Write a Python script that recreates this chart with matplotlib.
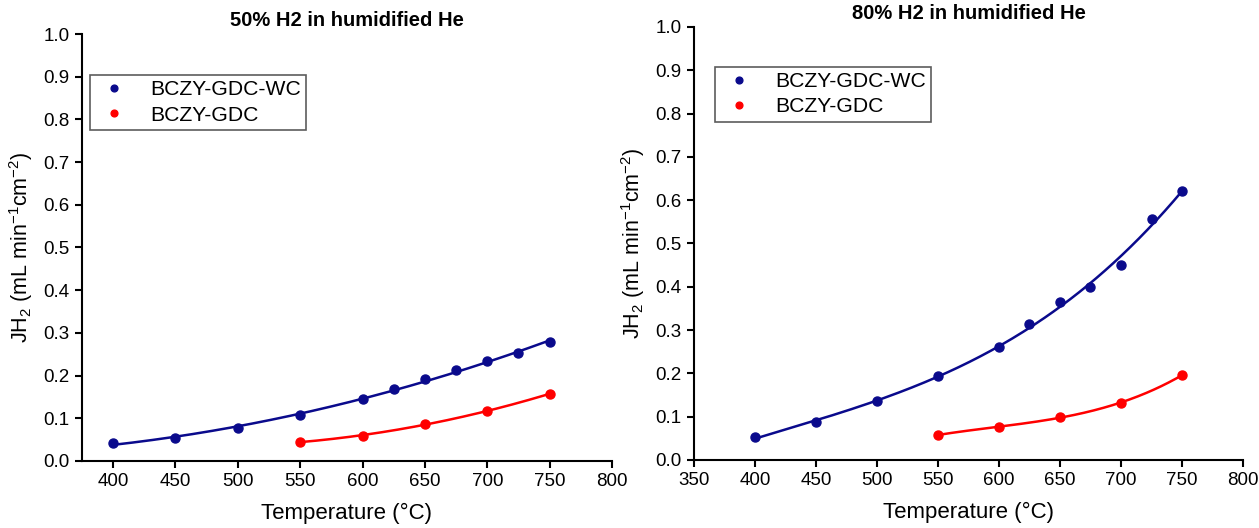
import numpy as np
import matplotlib
matplotlib.use("Agg")
import matplotlib.pyplot as plt

plt.rcParams['font.family'] = ['Liberation Sans', 'DejaVu Sans']
plt.rcParams['mathtext.fontset'] = 'custom'
plt.rcParams['mathtext.rm'] = 'Liberation Sans'
plt.rcParams['mathtext.it'] = 'Liberation Sans'
plt.rcParams['mathtext.default'] = 'regular'

# Data
temp_wc = [400, 450, 500, 550, 600, 625, 650, 675, 700, 725, 750]
temp_gdc = [550, 600, 650, 700, 750]

left_wc = [0.043, 0.053, 0.077, 0.107, 0.145, 0.168, 0.191, 0.213, 0.234, 0.252, 0.279]
left_gdc = [0.045, 0.058, 0.087, 0.117, 0.157]

right_wc = [0.052, 0.087, 0.136, 0.194, 0.261, 0.314, 0.364, 0.399, 0.451, 0.556, 0.621]
right_gdc = [0.058, 0.076, 0.099, 0.132, 0.196]

titles = ["50% H2 in humidified He", "80% H2 in humidified He"]
label_wc = "BCZY-GDC-WC"
label_gdc = "BCZY-GDC"

blue = "#0a0a8c"
red = "#ff0000"

fig = plt.figure(figsize=(12.59, 5.28), dpi=100)
ax1 = fig.add_axes([0.0651, 0.127, 0.4210, 0.8086])
ax2 = fig.add_axes([0.5512, 0.1288, 0.4361, 0.8201])


def fit_curve(x, y, deg):
    x = np.asarray(x, float)
    y = np.asarray(y, float)
    xs = np.linspace(x.min(), x.max(), 200)
    c = np.polyfit(x, y, deg)
    return xs, np.polyval(c, xs)


def draw(ax, title, wc, gdc, xlim, xticks, degs, legend_pos):
    xs, ys = fit_curve(temp_wc, wc, degs[0])
    ax.plot(xs, ys, color=blue, lw=1.8, zorder=2)
    xs, ys = fit_curve(temp_gdc, gdc, degs[1])
    ax.plot(xs, ys, color=red, lw=1.8, zorder=2)
    ax.plot(temp_wc, wc, 'o', color=blue, ms=6.5, zorder=3, label=label_wc)
    ax.plot(temp_gdc, gdc, 'o', color=red, ms=6.5, zorder=3, label=label_gdc)
    ax.set_xlim(*xlim)
    ax.set_ylim(0, 1.0)
    ax.set_xticks(xticks)
    yt = np.round(np.arange(0, 1.01, 0.1), 1)
    ax.set_yticks(yt)
    ax.set_yticklabels([f"{v:.1f}" for v in yt])
    for s in ['top', 'right']:
        ax.spines[s].set_visible(False)
    for s in ['left', 'bottom']:
        ax.spines[s].set_linewidth(1.5)
    ax.tick_params(direction='out', length=5, width=1.5, labelsize=13.5, pad=4)
    ax.set_xlabel("Temperature (°C)", fontsize=16, labelpad=9)
    ax.set_ylabel(r"JH$_2$ (mL min$^{-1}$cm$^{-2}$)", fontsize=15.5, labelpad=6)
    ax.set_title(title, fontsize=14.5, fontweight='bold', pad=6)
    leg = ax.legend(loc='upper left', bbox_to_anchor=legend_pos, fontsize=15.2,
                    frameon=True, fancybox=False, edgecolor='#333333',
                    handletextpad=0.8, borderpad=0.25, labelspacing=0.3,
                    markerscale=0.75, handlelength=1.8, borderaxespad=0)
    leg.get_frame().set_linewidth(1.2)


draw(ax1, titles[0], left_wc, left_gdc, (375, 800), range(400, 801, 50),
     (2, 2), (0.015, 0.904))
draw(ax2, titles[1], right_wc, right_gdc, (350, 800), range(350, 801, 50),
     (3, 3), (0.038, 0.908))

fig.savefig("out.png", dpi=100)
